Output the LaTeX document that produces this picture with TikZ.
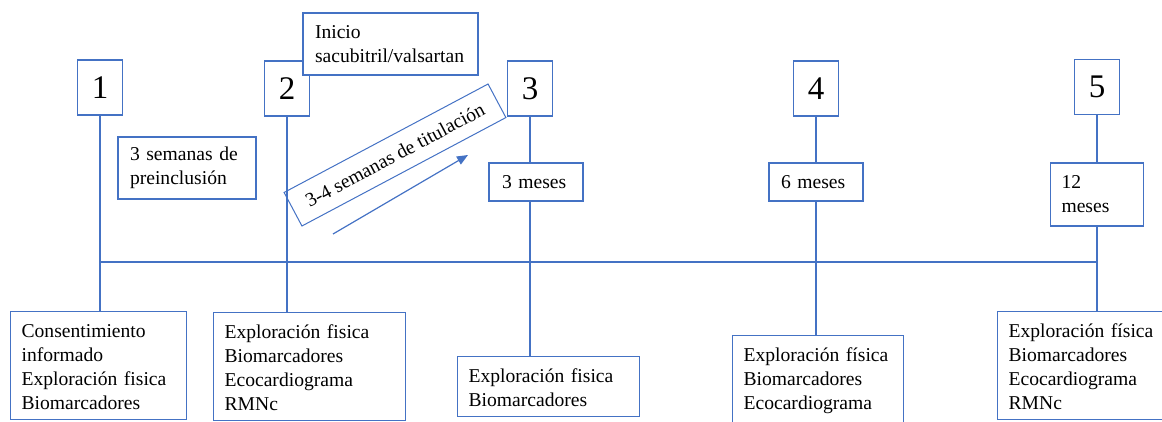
\documentclass[tikz,border=0pt]{standalone}
\usepackage{fontspec}
\setmainfont{Liberation Serif}
\usetikzlibrary{arrows.meta}
\definecolor{azul}{RGB}{68,114,196}
\newcommand{\txt}{\fontsize{19.6}{24}\selectfont}
\newcommand{\primera}{\rule{0pt}{16pt}}

\begin{document}
\begin{tikzpicture}[x=1pt, y=-1pt,
    caja/.style={draw=azul, line width=1.2pt, fill=white, font=\txt},
    numero/.style={caja, minimum width=45pt, minimum height=55pt, inner sep=0pt,
      font=\fontsize{33}{36}\selectfont},
    plazo/.style={caja, align=left, inner xsep=12pt, inner ysep=0pt},
    visita/.style={caja, anchor=north west, align=left, inner xsep=11pt, inner ysep=10pt},
    eje/.style={azul, line width=2pt}]
    \useasboundingbox (0,0) rectangle (1162,421);
    \clip (0,0) rectangle (1162,421);

    % visitas
    \node[numero] (n1) at (100,87.5) {1};
    \node[numero] (n2) at (287,88.5) {2};
    \node[numero] (n3) at (530,88.5) {3};
    \node[numero] (n4) at (816,88.5) {4};
    \node[numero] (n5) at (1097,87) {5};

    \node[plazo, minimum width=175pt, minimum height=62pt, text width=151pt] (ini) at (390.5,44)
        {Inicio\\sacubitril/valsartan};
    \node[plazo, minimum width=138pt, minimum height=62pt, text width=114pt] (prein) at (187,168)
        {3 semanas de\\preinclusión};
    \node[caja, fill=none, line width=1pt, rotate=28, minimum width=231pt, minimum height=38pt]
        (titul) at (395,155) {3-4 semanas de titulación};

    \node[plazo, minimum width=94pt, minimum height=38pt, text width=68pt] (m3) at (536,182) {3 meses};
    \node[plazo, minimum width=94pt, minimum height=38pt, text width=70pt] (m4) at (816,182) {6 meses};
    \node[plazo, inner xsep=11pt, minimum width=93pt, minimum height=63pt, text width=71pt]
        (m5) at (1097,194.5) {12\\meses};

    \node[visita, text width=154pt] (vA) at (10,311)
        {\primera Consentimiento\\informado\\Exploración fisica\\Biomarcadores};
    \node[visita, text width=170pt] (vB) at (213,312)
        {\primera Exploración fisica\\Biomarcadores\\Ecocardiograma\\RMNc};
    \node[visita, text width=160pt] (vC) at (457,356)
        {\primera Exploración fisica\\Biomarcadores};
    \node[visita, text width=149pt] (vD) at (732,335)
        {\primera Exploración física\\Biomarcadores\\Ecocardiograma};
    \node[visita, text width=160pt] (vE) at (997,311)
        {\primera Exploración física\\Biomarcadores\\Ecocardiograma\\RMNc};

    % lineas
    \coordinate (e1) at (n1.south |- 0,262);
    \coordinate (e5) at (n5.south |- 0,262);
    \draw[eje] (e1) -- (e5);
    \draw[eje] (n1.south) -- (n1.south |- vA.north);
    \draw[eje] (n2.south) -- (n2.south |- vB.north);
    \draw[eje] (n3.south) -- (n3.south |- m3.north);
    \draw[eje] (n3.south |- m3.south) -- (n3.south |- vC.north);
    \draw[eje] (n4.south) -- (m4.north);
    \draw[eje] (m4.south) -- (vD.north -| m4.south);
    \draw[eje] (n5.south) -- (m5.north);
    \draw[eje] (m5.south) -- (vE.north -| m5.south);

    \coordinate (fa) at (333,234);
    \coordinate (fb) at (468,155);
    \draw[azul, line width=1.2pt, -{Triangle[length=11pt,width=9pt]}] (fa) -- (fb);
\end{tikzpicture}
\end{document}
